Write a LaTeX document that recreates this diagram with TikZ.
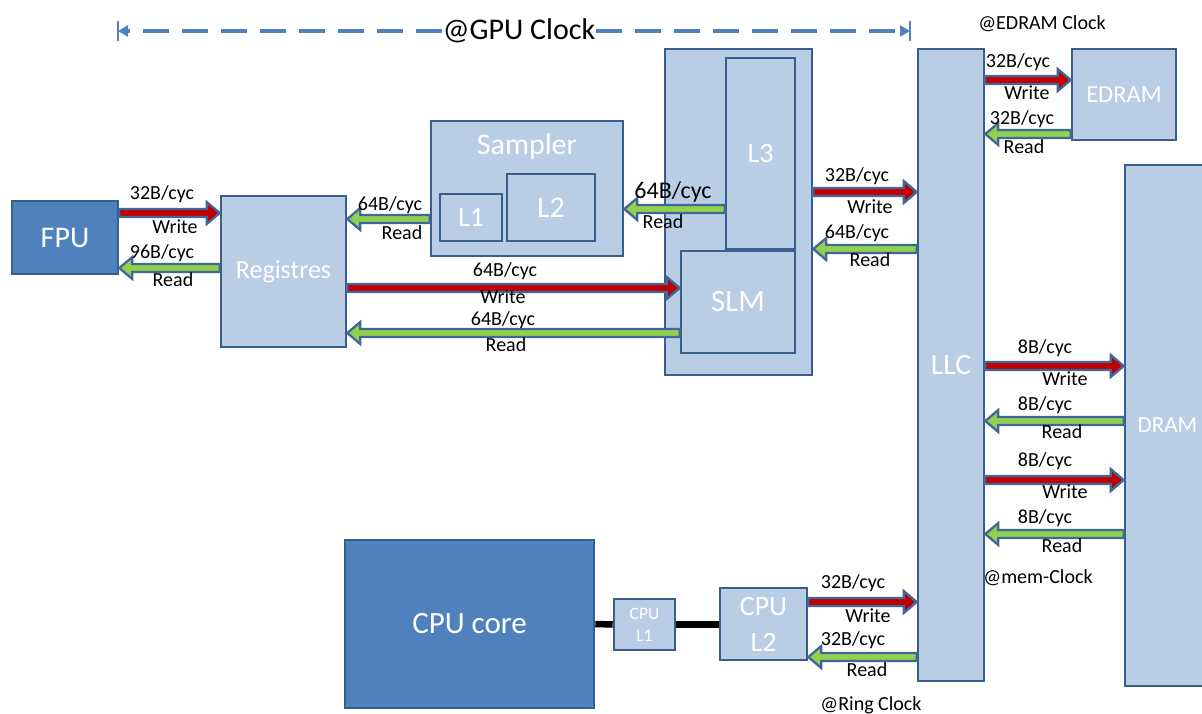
\documentclass[tikz,border=0pt]{standalone}
\usepackage{fontspec}
\setmainfont{Carlito}
\usetikzlibrary{calc,arrows.meta}
\definecolor{darkbox}{HTML}{4F81BD}
\definecolor{lightbox}{HTML}{B9CDE5}
\definecolor{edge}{HTML}{3A5E8C}
\definecolor{aedge}{HTML}{41679A}
\definecolor{wred}{HTML}{C00000}
\definecolor{rgreen}{HTML}{92D050}
\definecolor{clk}{HTML}{4F81BD}
\newcommand\fs[1]{\fontsize{#1}{#1}\selectfont}
\newcommand\flow[3]{%
  \draw[#1] let \p1=#2, \p2=#3, \n1={(\x2-\x1)/abs(\x2-\x1)} in
    (\x1,\y1+4pt) -- (\x2-\n1*13pt,\y1+4pt) -- (\x2-\n1*13pt,\y1+11pt) -- (\x2,\y1)
    -- (\x2-\n1*13pt,\y1-11pt) -- (\x2-\n1*13pt,\y1-4pt) -- (\x1,\y1-4pt) -- cycle;}
\begin{document}
\begin{tikzpicture}[x=1pt,y=-1pt,
  lbox/.style={draw=edge, line width=2.6pt, fill=lightbox, text=white, inner sep=0pt, font=\fs{27}},
  dbox/.style={draw=edge, line width=2.6pt, fill=darkbox, text=white, inner sep=0pt, font=\fs{30}},
  lab/.style={inner sep=0pt, font=\fs{20}},
  big/.style={inner sep=0pt, font=\fs{24}},
  wr/.style={draw=aedge, line width=2.3pt, fill=wred, line join=miter},
  rd/.style={draw=aedge, line width=2.3pt, fill=rgreen, line join=miter},
  clkline/.style={draw=clk, line width=3.5pt, dash pattern=on 26pt off 13pt},
  bar/.style={draw=clk, line width=1.5pt}]
\clip (0,0) rectangle (1202,713);
\fill[white] (0,0) rectangle (1202,713);
% boxes
\node[dbox, minimum width=106, minimum height=73] (fpu) at (65,237.5) {FPU};
\node[lbox, minimum width=125, minimum height=151, font=\fs{26}] (reg) at (283.5,271.5) {Registres};
\node[lbox, minimum width=192, minimum height=135] (sampler) at (527,188.5) {};
\node[font=\fs{30}, text=white, inner sep=0pt] (samplert) at (527,146) {Sampler};
\node[lbox, minimum width=62, minimum height=47, font=\fs{28}] (l1) at (471,217.5) {L1};
\node[lbox, minimum width=88, minimum height=67, font=\fs{30}] (l2) at (551,207.5) {L2};
\node[lbox, minimum width=147, minimum height=326] (gpu) at (738.5,212) {};
\node[lbox, minimum width=69, minimum height=191, font=\fs{28}] (l3) at (760.5,153.5) {L3};
\node[lbox, minimum width=114, minimum height=102, font=\fs{31}] (slm) at (738,302) {SLM};
\node[lbox, minimum width=66, minimum height=632, font=\fs{29.5}] (llc) at (951,365) {LLC};
\node[lbox, minimum width=104, minimum height=91, font=\fs{24.5}] (edram) at (1124,94.5) {EDRAM};
\node[lbox, minimum width=85, minimum height=521, font=\fs{23}] (dram) at (1167.5,425.5) {DRAM};
\node[dbox, minimum width=249, minimum height=168, font=\fs{31}] (cpucore) at (469.5,624) {CPU core};
\node[lbox, minimum width=61, minimum height=51, font=\fontsize{17.5}{22}\selectfont, align=center] (cpul1) at (644.5,624.5) {CPU\\L1};
\node[lbox, minimum width=87, minimum height=72, font=\fontsize{28}{36}\selectfont, align=center] (cpul2) at (763.5,624) {CPU\\L2};
% black links
\draw[line width=6.5pt] (cpucore.east) -- (cpul1.west);
\draw[line width=6.5pt] (cpul1.east) -- (cpul2.west |- cpul1.east);
% flows
\flow{wr}{(fpu.east|-0,213)}{(reg.west|-0,213)}
\flow{rd}{(reg.west|-0,268)}{(fpu.east|-0,268)}
\flow{rd}{(sampler.west|-0,219)}{(reg.east|-0,219)}
\flow{rd}{(l3.west|-0,209)}{(sampler.east|-0,209)}
\flow{wr}{(reg.east|-0,288)}{(slm.west|-0,288)}
\flow{rd}{(slm.west|-0,333)}{(reg.east|-0,333)}
\flow{wr}{(gpu.east|-0,192)}{(llc.west|-0,192)}
\flow{rd}{(llc.west|-0,249)}{(gpu.east|-0,249)}
\flow{wr}{(llc.east|-0,80)}{(edram.west|-0,80)}
\flow{rd}{(edram.west|-0,134)}{(llc.east|-0,134)}
\flow{wr}{(llc.east|-0,366)}{(dram.west|-0,366)}
\flow{rd}{(dram.west|-0,421)}{(llc.east|-0,421)}
\flow{wr}{(llc.east|-0,480)}{(dram.west|-0,480)}
\flow{rd}{(dram.west|-0,534)}{(llc.east|-0,534)}
\flow{wr}{(cpul2.east|-0,602)}{(llc.west|-0,602)}
\flow{rd}{(llc.west|-0,657)}{(cpul2.east|-0,657)}
% labels
\node[lab] (a1) at (162,194) {32B/cyc};
\node[lab] (b1) at (175,227) {Write};
\node[lab] (a2) at (162,253) {96B/cyc};
\node[lab] (b2) at (173,280) {Read};
\node[lab] (a3) at (390,205) {64B/cyc};
\node[lab] (b3) at (402,233) {Read};
\node[big] (a4) at (673,192) {64B/cyc};
\node[lab] (b4) at (663,222) {Read};
\node[lab] (a5) at (505,271) {64B/cyc};
\node[lab] (b5) at (503,297) {Write};
\node[lab] (a6) at (503,320) {64B/cyc};
\node[lab] (b6) at (506,345) {Read};
\node[lab] (a7) at (857,176) {32B/cyc};
\node[lab] (b7) at (870,207) {Write};
\node[lab] (a8) at (857,233) {64B/cyc};
\node[lab] (b8) at (870,260) {Read};
\node[lab] (a9) at (1018,62) {32B/cyc};
\node[lab] (b9) at (1027,93) {Write};
\node[lab] (a10) at (1022,119) {32B/cyc};
\node[lab] (b10) at (1024,147) {Read};
\node[lab] (a11) at (1045,348) {8B/cyc};
\node[lab] (b11) at (1065,379) {Write};
\node[lab] (a12) at (1045,405) {8B/cyc};
\node[lab] (b12) at (1062,432) {Read};
\node[lab] (a13) at (1045,461) {8B/cyc};
\node[lab] (b13) at (1065,492) {Write};
\node[lab] (a14) at (1045,518) {8B/cyc};
\node[lab] (b14) at (1062,546) {Read};
\node[lab] (a15) at (853,583) {32B/cyc};
\node[lab] (b15) at (868,616) {Write};
\node[lab] (a16) at (853,640) {32B/cyc};
\node[lab] (b16) at (867,670) {Read};
\node[lab] (memclk) at (1038,578) {@mem-Clock};
\node[lab] (ringclk) at (871,705) {@Ring Clock};
\node[lab] (edclk) at (1042,24) {@EDRAM Clock};
% GPU clock
\node[font=\fs{30}, fill=white, inner xsep=1pt, inner ysep=0pt] (gclk) at (519,31) {@GPU Clock};
\coordinate (gl) at (118,31);
\coordinate (gr) at (910,31);
\draw[clkline, -{Triangle[length=10pt,width=11pt]}] (gclk.west) -- (gl);
\draw[clkline, -{Triangle[length=10pt,width=11pt]}] (gclk.east) -- (gr);
\draw[bar] ($(gl)+(0,-10)$) -- ($(gl)+(0,10)$);
\draw[bar] ($(gr)+(0,-10)$) -- ($(gr)+(0,10)$);
\end{tikzpicture}
\end{document}
